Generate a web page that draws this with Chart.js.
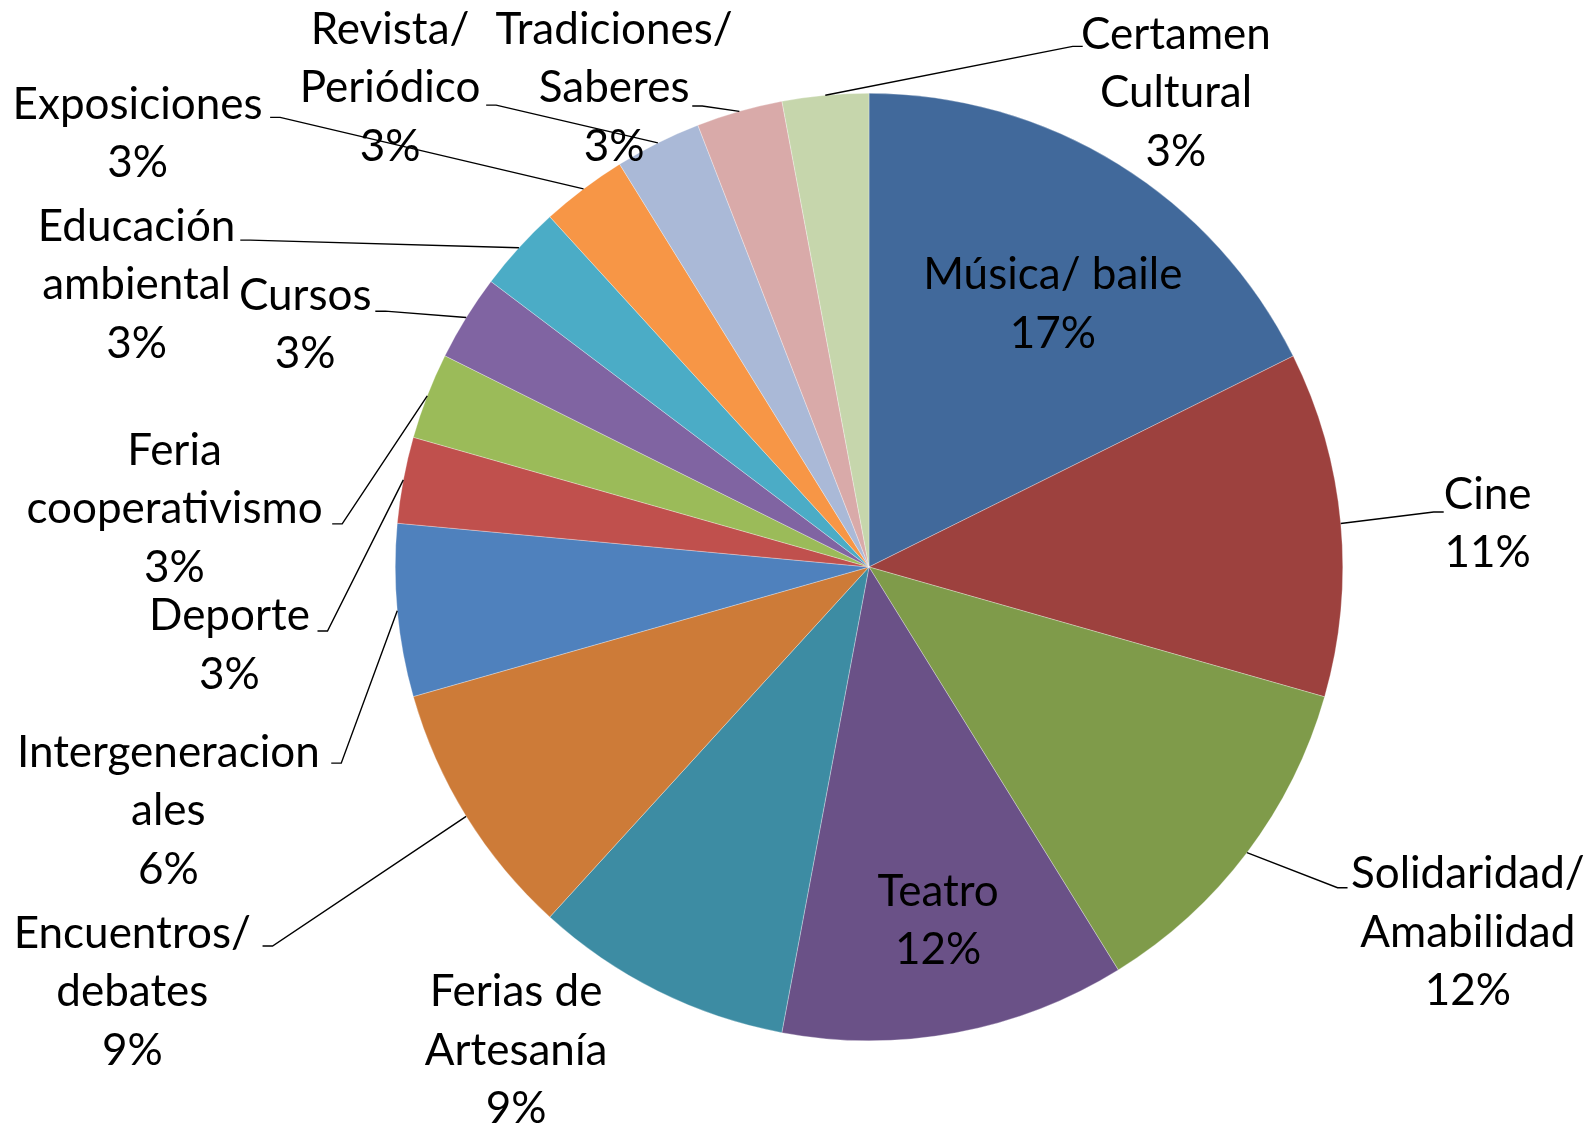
<!DOCTYPE html>
<html>
<head>
<meta charset="utf-8">
<script src="https://cdn.jsdelivr.net/npm/chart.js@4.4.1/dist/chart.umd.min.js"></script>
<style>
  html, body { margin: 0; padding: 0; background: #ffffff; }
  #c { display: block; }
</style>
</head>
<body>
<canvas id="c" width="1595" height="1128"></canvas>
<script>
// ---- DATA (clockwise from 12 o'clock) ----
const categories = [
  'Música/ baile', 'Cine', 'Solidaridad/\nAmabilidad', 'Teatro', 'Ferias de\nArtesanía',
  'Encuentros/\ndebates', 'Intergeneracion\nales', 'Deporte', 'Feria\ncooperativismo', 'Cursos',
  'Educación\nambiental', 'Exposiciones', 'Revista/\nPeriódico', 'Tradiciones/\nSaberes', 'Certamen\nCultural'
];
const values = [17.65, 11.76, 11.76, 11.76, 8.82, 8.82, 5.88, 2.94, 2.94, 2.94, 2.94, 2.94, 2.94, 2.94, 2.94];
const percentLabels = ['17%', '11%', '12%', '12%', '9%', '9%', '6%', '3%', '3%', '3%', '3%', '3%', '3%', '3%', '3%'];

// ---- STYLE ----
const colors = [
  '#41699B', '#9D413E', '#7F9B4A', '#6A5187', '#3D8CA3', '#CD7B38', '#4F81BD', '#C0504D',
  '#9BBB59', '#8064A2', '#4BACC6', '#F79646', '#AAB9D7', '#D9AAA9', '#C6D6AC'
];
// label block centre and leader elbow, in units of the pie radius from the pie centre
const labelLayout = [
  { pos: [0.388, -0.555] },
  { pos: [1.306, -0.091], elbow: [1.192, -0.116] },
  { pos: [1.264, 0.772], elbow: [0.989, 0.677] },
  { pos: [0.146, 0.747] },
  { pos: [-0.745, 1.021] },
  { pos: [-1.555, 0.897], elbow: [-1.259, 0.800] },
  { pos: [-1.479, 0.515], elbow: [-1.114, 0.414] },
  { pos: [-1.350, 0.165], elbow: [-1.143, 0.135] },
  { pos: [-1.466, -0.122], elbow: [-1.112, -0.091] },
  { pos: [-1.190, -0.511], elbow: [-1.021, -0.540] },
  { pos: [-1.546, -0.595], elbow: [-1.306, -0.690] },
  { pos: [-1.544, -0.914], elbow: [-1.243, -0.949] },
  { pos: [-1.011, -1.011], elbow: [-0.787, -0.975] },
  { pos: [-0.538, -1.011], elbow: [-0.352, -0.973] },
  { pos: [0.648, -1.000], elbow: [0.430, -1.099] }
];
const FONT = '44px Lato';
const LINE_H = 58.5;
const STUB = 10;

const labelPlugin = {
  id: 'pieLabels',
  afterDatasetsDraw(chart) {
    const ctx = chart.ctx;
    const meta = chart.getDatasetMeta(0);
    ctx.save();
    meta.data.forEach((arc, i) => {
      const p = arc.getProps(['x', 'y', 'startAngle', 'endAngle', 'outerRadius'], true);
      const r = p.outerRadius;
      const mid = (p.startAngle + p.endAngle) / 2;
      const lay = labelLayout[i];
      const lx = p.x + lay.pos[0] * r;
      const ly = p.y + lay.pos[1] * r;
      if (lay.elbow) {
        const ax = p.x + Math.cos(mid) * r;
        const ay = p.y + Math.sin(mid) * r;
        const ex = p.x + lay.elbow[0] * r;
        const ey = p.y + lay.elbow[1] * r;
        const dir = lx > ex ? 1 : -1;
        ctx.beginPath();
        ctx.strokeStyle = '#000';
        ctx.lineWidth = 1.4;
        ctx.moveTo(ax, ay);
        ctx.lineTo(ex, ey);
        ctx.lineTo(ex + dir * STUB, ey);
        ctx.stroke();
      }
      const lines = categories[i].split('\n').concat([percentLabels[i]]);
      ctx.font = FONT;
      ctx.fillStyle = '#000';
      ctx.textAlign = 'center';
      ctx.textBaseline = 'middle';
      const top = ly - (lines.length - 1) * LINE_H / 2;
      lines.forEach((t, k) => ctx.fillText(t, lx, top + k * LINE_H));
    });
    ctx.restore();
  }
};

new Chart(document.getElementById('c'), {
  type: 'pie',
  data: {
    labels: categories.map(s => s.replace('\n', ' ')),
    datasets: [{
      data: values,
      backgroundColor: colors,
      borderColor: 'rgba(255,255,255,0.6)',
      borderWidth: 0.5
    }]
  },
  options: {
    responsive: false,
    animation: false,
    layout: { padding: { left: 395, right: 252, top: 93, bottom: 87 } },
    plugins: { legend: { display: false }, tooltip: { enabled: false } }
  },
  plugins: [labelPlugin]
});
</script>
</body>
</html>
